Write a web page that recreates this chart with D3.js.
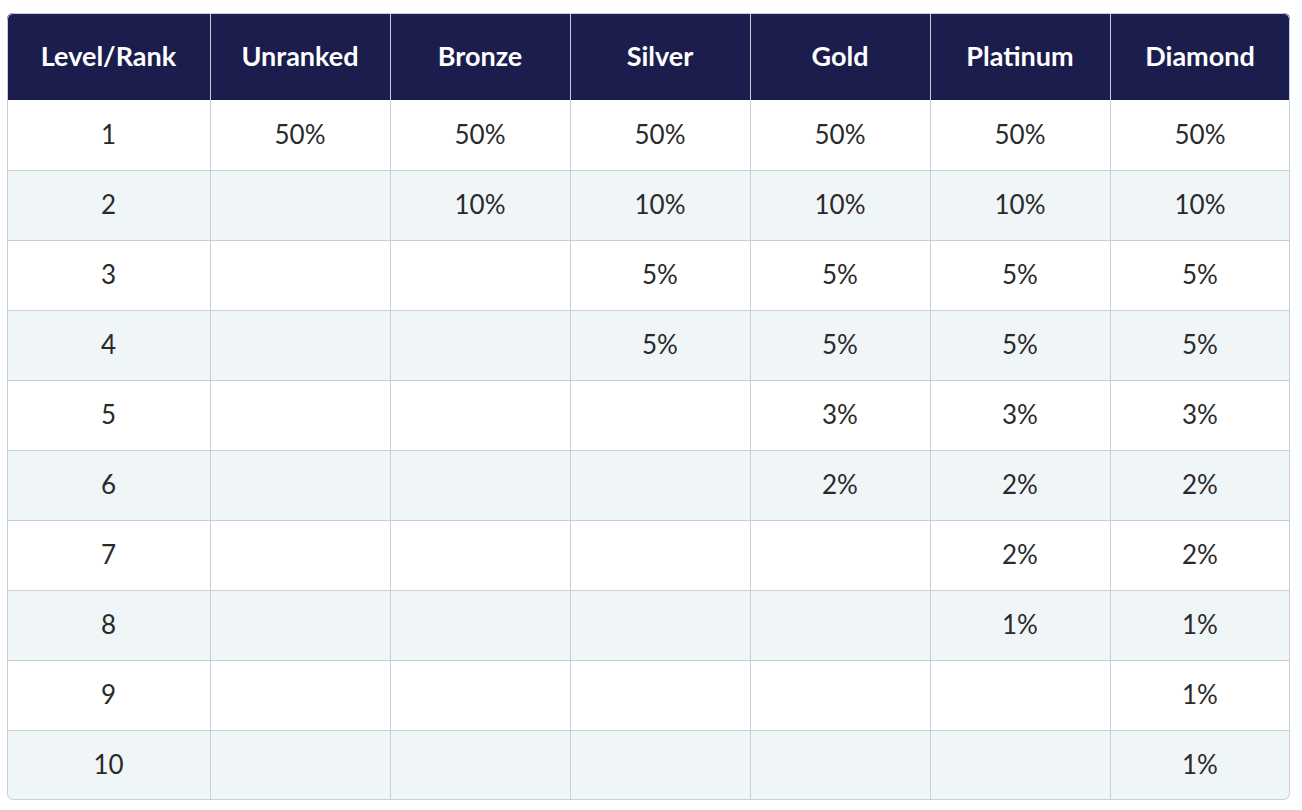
<!DOCTYPE html>
<html>
<head>
<meta charset="utf-8">
<script src="https://cdn.jsdelivr.net/npm/d3@7"></script>
<style>
body { margin: 0; background: #fff; }
</style>
</head>
<body>
<div id="chart"></div>
<script>
var width = 1302;
var height = 810;

// table data
var columns = ["Level/Rank", "Unranked", "Bronze", "Silver", "Gold", "Platinum", "Diamond"];
var levels = ["1", "2", "3", "4", "5", "6", "7", "8", "9", "10"];
var unranked = ["50%", "", "", "", "", "", "", "", "", ""];
var bronze = ["50%", "10%", "", "", "", "", "", "", "", ""];
var silver = ["50%", "10%", "5%", "5%", "", "", "", "", "", ""];
var gold = ["50%", "10%", "5%", "5%", "3%", "2%", "", "", "", ""];
var platinum = ["50%", "10%", "5%", "5%", "3%", "2%", "2%", "1%", "", ""];
var diamond = ["50%", "10%", "5%", "5%", "3%", "2%", "2%", "1%", "1%", "1%"];

var series = [levels, unranked, bronze, silver, gold, platinum, diamond];

// note: "top" is taken by window.top, so use tableTop
var tableLeft = 7, tableRight = 1290, tableTop = 13, headerH = 87, rowH = 70;
var firstColW = 203;

// column edges: first col wider, the rest split evenly
var colX = d3.scaleLinear().domain([1, columns.length]).range([tableLeft + firstColW, tableRight]);
function x0(i) { return i == 0 ? tableLeft : colX(i); }
function x1(i) { return colX(i + 1); }

var rowY = d3.scaleLinear().domain([0, levels.length]).range([tableTop + headerH, tableTop + headerH + rowH * levels.length]);
var tableBottom = rowY(levels.length);

var svg = d3.select("#chart").append("svg")
	.attr("width", width)
	.attr("height", height);

svg.append("defs").append("clipPath").attr("id", "clip")
	.append("rect")
	.attr("x", tableLeft).attr("y", tableTop)
	.attr("width", tableRight - tableLeft).attr("height", tableBottom - tableTop)
	.attr("rx", 6);

var g = svg.append("g").attr("clip-path", "url(#clip)");

// row backgrounds
g.selectAll("rect.row").data(levels).enter().append("rect")
	.attr("class", "row")
	.attr("x", tableLeft).attr("width", tableRight - tableLeft)
	.attr("y", (d, i) => rowY(i)).attr("height", rowH)
	.attr("fill", (d, i) => i % 2 ? "#f0f5f8" : "#ffffff");

// header
g.append("rect")
	.attr("x", tableLeft).attr("y", tableTop)
	.attr("width", tableRight - tableLeft).attr("height", headerH)
	.attr("fill", "#1b1d4d");

// grid lines
g.selectAll("line.h").data(d3.range(1, levels.length)).enter().append("line")
	.attr("x1", tableLeft).attr("x2", tableRight)
	.attr("y1", d => rowY(d) + 0.5).attr("y2", d => rowY(d) + 0.5)
	.attr("stroke", "#c5d0d8");

g.selectAll("line.v").data(d3.range(1, columns.length)).enter().append("line")
	.attr("x1", d => x0(d) + 0.5).attr("x2", d => x0(d) + 0.5)
	.attr("y1", tableTop).attr("y2", tableBottom)
	.attr("stroke", "#c5d0d8");

// header labels
svg.selectAll("text.head").data(columns).enter().append("text")
	.attr("class", "head")
	.attr("x", (d, i) => (x0(i) + x1(i)) / 2)
	.attr("y", tableTop + headerH / 2)
	.attr("dy", "0.35em")
	.attr("text-anchor", "middle")
	.style("font-family", "Lato, 'Noto Sans', sans-serif")
	.style("font-weight", "bold")
	.style("font-size", "27px")
	.attr("fill", "#ffffff")
	.text(d => d);

// cell values
series.forEach(function (col, ci) {
	svg.selectAll("text.c" + ci).data(col).enter().append("text")
		.attr("class", "c" + ci)
		.attr("x", (x0(ci) + x1(ci)) / 2)
		.attr("y", (d, i) => rowY(i) + rowH / 2)
		.attr("dy", "0.35em")
		.attr("text-anchor", "middle")
		.style("font-family", "Lato, 'Noto Sans', sans-serif")
		.style("font-size", "26px")
		.attr("fill", "#2a2a2a")
		.text(d => d);
});

// outer border
svg.append("rect")
	.attr("x", tableLeft + 0.5).attr("y", tableTop + 0.5)
	.attr("width", tableRight - tableLeft - 1).attr("height", tableBottom - tableTop - 1)
	.attr("rx", 6)
	.attr("fill", "none")
	.attr("stroke", "#c5d0d8");
</script>
</body>
</html>
